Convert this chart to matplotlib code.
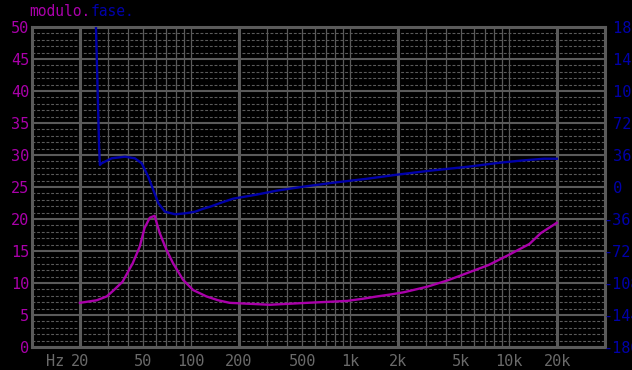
import matplotlib
matplotlib.use("Agg")
import matplotlib.pyplot as plt

# impedance modulus (ohm)
mod_freq = [20, 25.5, 29.5, 32.4, 37.1, 43, 47.6, 51, 55, 59, 63.5, 70, 77, 89,
            103, 125, 148, 175, 312, 536, 955, 1210, 1475, 1790, 2170, 3030,
            4090, 5500, 7400, 9950, 13400, 15800, 19900]
mod_val = [6.9, 7.3, 7.9, 8.8, 10.2, 13.1, 15.7, 18.6, 20.2, 20.5, 17.8, 15.2,
           13.1, 10.5, 8.9, 7.9, 7.3, 6.9, 6.6, 6.9, 7.2, 7.55, 7.9, 8.2, 8.55,
           9.4, 10.4, 11.6, 12.8, 14.4, 16.1, 17.8, 19.4]

# phase (degrees)
phase_freq = [25.2, 26.4, 26.7, 27.4, 31.7, 38.4, 44.3, 48.9, 53.8, 57.9, 62.3,
              68.5, 79.4, 91.9, 106, 119, 132, 155, 184, 258, 345, 505, 781,
              1280, 1960, 3160, 5500, 8700, 11700, 16500, 19950]
phase_val = [185, 47, 24.8, 26.7, 32.3, 34.1, 32.3, 26.7, 11.6, -3.4, -18.3,
             -27.8, -30.7, -29.6, -27.8, -24.5, -22.1, -17.6, -13.1, -8.6, -4.1,
             0.3, 4.8, 9.3, 13.8, 18.3, 22.8, 27.3, 29.6, 31.8, 31.8]

x_ticks = [20, 50, 100, 200, 500, 1000, 2000, 5000, 10000, 20000]
x_labels = ["20", "50", "100", "200", "500", "1k", "2k", "5k", "10k", "20k"]
mod_ticks = list(range(0, 51, 5))
phase_ticks = [-180, -144, -108, -72, -36, 0, 36, 72, 108, 144, 180]

MAG = "#aa00aa"
BLUE = "#0000aa"
GRID = "#5a5a5a"
LABEL = "#6a6a6a"
FONT = "DejaVu Sans Mono"

fig = plt.figure(figsize=(6.32, 3.70), dpi=100, facecolor="black")
W, H = 632, 370
ax = fig.add_axes([32 / W, 1 - 347 / H, (605 - 32) / W, (347 - 27) / H])
ax.set_facecolor("black")
ax.set_xscale("log")
ax.set_xlim(10, 40000)
ax.set_ylim(0, 50)

# grid: dotted every 1, solid every 5
for v in range(1, 50):
    if v % 5:
        ax.axhline(v, color=GRID, lw=0.8, dashes=(2.6, 1.6), zorder=1)
    else:
        ax.axhline(v, color=GRID, lw=1.5, zorder=1)
for dec in [10, 100, 1000, 10000]:
    for m in range(2, 11):
        f = m * dec
        if f < 20 or f > 20000:
            continue
        thick = f in (20, 200, 2000, 20000)
        ax.axvline(f, color=GRID, lw=2.2 if thick else 0.9, zorder=1)

for s in ax.spines.values():
    s.set_color(GRID)
    s.set_linewidth(2.2)

ax.plot(mod_freq, mod_val, color=MAG, lw=1.7, zorder=3)

ax2 = ax.twinx()
ax2.set_ylim(-180, 180)
ax2.plot(phase_freq, phase_val, color=BLUE, lw=1.7, zorder=3)
for s in ax2.spines.values():
    s.set_visible(False)

ax.set_xticks(x_ticks)
ax.set_xticklabels(x_labels)
ax.xaxis.set_minor_locator(matplotlib.ticker.NullLocator())
ax.tick_params(axis="x", length=0, pad=5, colors=LABEL, labelsize=11)
ax.set_yticks(mod_ticks)
ax.tick_params(axis="y", length=0, pad=2, colors=MAG, labelsize=11)
ax2.set_yticks(phase_ticks)
ax2.set_yticklabels([str(v) if v < 0 else f" {v}" for v in phase_ticks])
ax2.tick_params(axis="y", length=0, pad=-1, colors=BLUE, labelsize=11)
for lab in ax.get_xticklabels() + ax.get_yticklabels() + ax2.get_yticklabels():
    lab.set_family(FONT)

fig.text(46 / W, 1 - 361 / H, "Hz", color=LABEL, family=FONT, fontsize=11,
         va="center", ha="left")

t = fig.text(29 / W, 1 - 12 / H, "modulo.", color=MAG, family=FONT, fontsize=10.5,
             va="center", ha="left")
ax.annotate("fase.", xy=(1, 0), xycoords=t, va="bottom", ha="left",
            color=BLUE, family=FONT, fontsize=10.5, annotation_clip=False)

fig.savefig("out.png", dpi=100, facecolor="black")
